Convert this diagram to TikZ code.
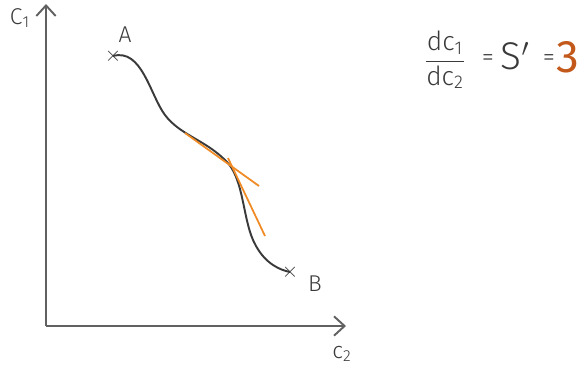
\documentclass[tikz,border=0pt]{standalone}
\usepackage{amsmath}
\usepackage{fontspec}
\setmainfont{Fira Sans Light}
\newfontfamily\boldhand{Fira Sans}
\usepackage{xcolor}
\usetikzlibrary{arrows.meta,positioning}
\definecolor{pencil}{HTML}{3A3A3A}
\definecolor{marker}{HTML}{F08A24}
\definecolor{markerdark}{HTML}{C2581A}

\begin{document}
\begin{tikzpicture}[x=0.02cm,y=-0.02cm,
  axis/.style={draw=pencil!80,line width=1.1pt,-{Straight Barb[length=6pt,width=11pt]}},
  lbl/.style={text=pencil,font=\fontsize{13}{15}\selectfont,inner sep=1pt},
  cross/.style={inner sep=0pt,text=pencil,font=\fontsize{13}{13}\selectfont}]
\useasboundingbox (0,0) rectangle (582,376);

% Axes
\coordinate (o) at (46,326);
\coordinate (ytop) at (46,4);
\coordinate (xend) at (346,326);
\draw[axis] (o) -- (ytop);
\draw[axis] (o) -- (xend);
\node[lbl] (c1) at (20,18) {C\textsubscript{1}};
\node[lbl] (c2) at (342,354) {c\textsubscript{2}};

% End points of the curve
\node[cross] (A) at (113,56) {$\times$};
\node[cross] (B) at (290,272) {$\times$};
\node[lbl] (Alab) at (125,35) {A};
\node[lbl] (Blab) at (315,284) {B};

% The curve
\draw[pencil,line width=1.1pt] (A.center) .. controls (142,48) and (150,95) .. (165,115)
  .. controls (180,135) and (205,140) .. (225,160)
  .. controls (245,178) and (242,222) .. (256,246)
  .. controls (266,264) and (280,270) .. (B.center);

% Tangent lines
\coordinate (t1s) at (185,133);
\coordinate (t1e) at (259,186);
\coordinate (t2s) at (228,158);
\coordinate (t2e) at (265,236);
\draw[marker,line width=1pt] (t1s) -- (t1e);
\draw[marker,line width=1pt] (t2s) -- (t2e);

% Slope
\node[text=pencil,font=\fontsize{15}{17}\selectfont] (frac) at (445,60)
  {$\dfrac{\text{dc\textsubscript{1}}}{\text{dc\textsubscript{2}}}$};
\node[text=pencil,font=\fontsize{14}{16}\selectfont] (eq1) at (488,60) {=};
\node[text=pencil,font=\fontsize{22}{24}\selectfont] (S) at (515,56) {S$'$};
\node[text=pencil,font=\fontsize{14}{16}\selectfont] (eq2) at (549,60) {=};
\node[text=markerdark,font=\boldhand\fontsize{26}{28}\selectfont] (three) at (568,57) {3};
\end{tikzpicture}
\end{document}
